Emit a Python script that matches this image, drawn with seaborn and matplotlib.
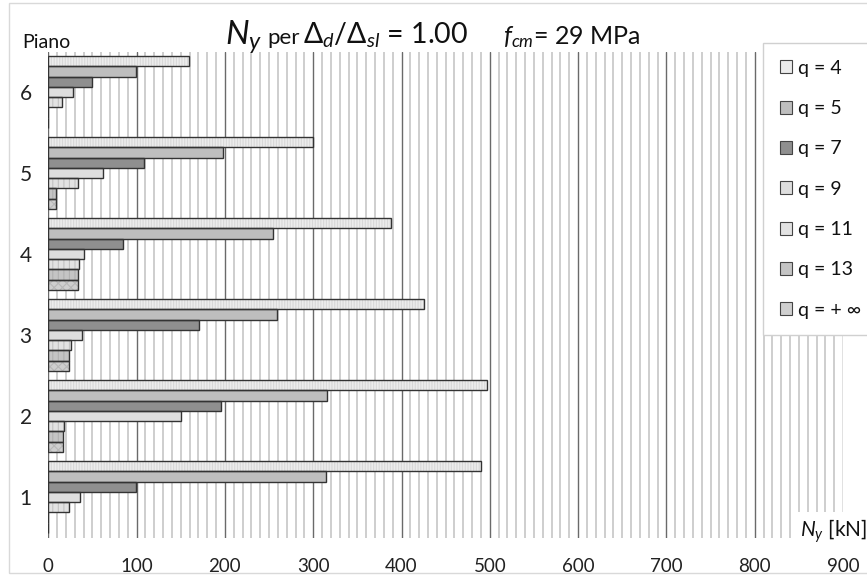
import numpy as np
import pandas as pd
import matplotlib
matplotlib.use("Agg")
import matplotlib.pyplot as plt
import seaborn as sns
from matplotlib.patches import Patch, Rectangle
from matplotlib.ticker import FixedLocator

# ---------------- data ----------------
floors = ["6", "5", "4", "3", "2", "1"]
q_labels = ["q = 4", "q = 5", "q = 7", "q = 9", "q = 11", "q = 13", "q = + ∞"]
q4 = [159, 300, 388, 425, 497, 490]
q5 = [99, 198, 254, 259, 316, 314]
q7 = [50, 108, 85, 171, 196, 99]
q9 = [28, 62, 40, 38, 150, 36]
q11 = [15, 34, 35, 26, 18, 24]
q13 = [0, 9, 34, 24, 17, 0]
qinf = [0, 9, 34, 24, 17, 0]
series = [q4, q5, q7, q9, q11, q13, qinf]
x_ticks = list(range(0, 901, 100))

rows = []
for lab, vals in zip(q_labels, series):
    for f, v in zip(floors, vals):
        rows.append({"Piano": f, "q": lab, "Ny": v})
df = pd.DataFrame(rows)

# ---------------- style ----------------
sns.set_theme(style="white")
plt.rcParams["font.family"] = ["Lato", "DejaVu Sans"]
plt.rcParams["mathtext.fontset"] = "custom"
plt.rcParams["mathtext.rm"] = "Lato"
plt.rcParams["mathtext.it"] = "Lato:italic"
plt.rcParams["mathtext.fallback"] = "stixsans"
plt.rcParams["hatch.linewidth"] = 0.8

face_cols = ["#ececec", "#bebebe", "#8f8f8f", "#dedede", "#e2e2e2", "#c4c4c4", "#cfcfcf"]
hatch_cols = ["#d8d8d8", "#bebebe", "#8f8f8f", "#d0d0d0", "#c2c2c2", "#b0b0b0", "#b8b8b8"]
hatches = ["||||||", None, None, None, "|||", "|||", "xxxx"]
edge_col = "#333333"

fig = plt.figure(figsize=(8.67, 5.76), dpi=100)
ax = fig.add_axes([48.3 / 867, 1 - 537.5 / 576, (843 - 48.3) / 867, (537.5 - 51.5) / 576])

# layer 1: fill + hatch
sns.barplot(data=df, y="Piano", x="Ny", hue="q", order=floors, hue_order=q_labels,
            palette=face_cols, width=0.89, orient="h", legend=False, ax=ax,
            errorbar=None, saturation=1)
for i, cont in enumerate(ax.containers):
    for bar in cont:
        bar.set_facecolor(face_cols[i])
        bar.set_edgecolor(hatch_cols[i])
        bar.set_linewidth(0)
        if hatches[i]:
            bar.set_hatch(hatches[i])
n_first = len(ax.containers)

# layer 2: outlines
sns.barplot(data=df, y="Piano", x="Ny", hue="q", order=floors, hue_order=q_labels,
            palette=face_cols, width=0.89, orient="h", legend=False, ax=ax,
            errorbar=None, saturation=1)
for cont in ax.containers[n_first:]:
    for bar in cont:
        bar.set_facecolor("none")
        bar.set_edgecolor(edge_col)
        bar.set_linewidth(1.0)

ax.set_xlim(0, 900)
ax.set_ylim(5.5, -0.5)
ax.set_xticks(x_ticks)
ax.xaxis.set_minor_locator(FixedLocator([x for x in range(0, 901, 10) if x % 100]))
ax.set_axisbelow(True)
ax.grid(which="minor", axis="x", color="#c6c6c6", lw=1.2)
ax.grid(which="major", axis="x", color="#6a6a6a", lw=1.0)
ax.grid(which="major", axis="y", visible=False)
for s in ax.spines.values():
    s.set_visible(False)
ax.tick_params(axis="x", which="both", length=0, labelsize=13.5, pad=15, colors="#222222")
ax.tick_params(axis="y", which="both", length=0, labelsize=15, pad=12, colors="#222222")
ax.set_xlabel("")
ax.set_ylabel("")

# legend
handles = [Patch(facecolor=face_cols[i], edgecolor="#444444", linewidth=0.8, label=q_labels[i])
           for i in range(len(q_labels))]
leg = fig.legend(handles=handles, loc="upper left",
                 bbox_to_anchor=(763 / 867, 1 - 49 / 576, 0.2, 0.01), mode="expand",
                 fontsize=14, frameon=True, fancybox=False, framealpha=1,
                 edgecolor="#d0d0d0", handlelength=0.65, handleheight=0.65,
                 handletextpad=0.3, labelspacing=1.2, borderpad=0.85, borderaxespad=0)
leg.get_frame().set_linewidth(1.0)
for t in leg.get_texts():
    t.set_color("#111111")

# texts
fig.text(22 / 867, 1 - 43 / 576, "Piano", fontsize=14, va="center", ha="left", color="#111111")
base = 1 - 44 / 576
fig.text(225 / 867, base, r"$N_y$", fontsize=24, va="baseline", ha="left", color="#111111")
fig.text(267 / 867, base, "per", fontsize=16, va="baseline", ha="left", color="#111111")
fig.text(303 / 867, base, r"$\Delta_d/\Delta_{sl}$ = 1.00", fontsize=20.5, va="baseline",
         ha="left", color="#111111")
fig.text(503 / 867, base, r"$f_{cm}$= 29 MPa", fontsize=18, va="baseline", ha="left",
         color="#111111")
fig.text(800 / 867, 1 - 531 / 576, r"$N_y$ [kN]", fontsize=15, va="center", ha="left",
         color="#111111",
         bbox=dict(facecolor="white", edgecolor="none", pad=4))

fig.patches.append(Rectangle((9 / 867, 3 / 576), 1.0, 570 / 576, transform=fig.transFigure,
                             fill=False, edgecolor="#d9d9d9", lw=1.0))

fig.savefig("out.png", dpi=100)
